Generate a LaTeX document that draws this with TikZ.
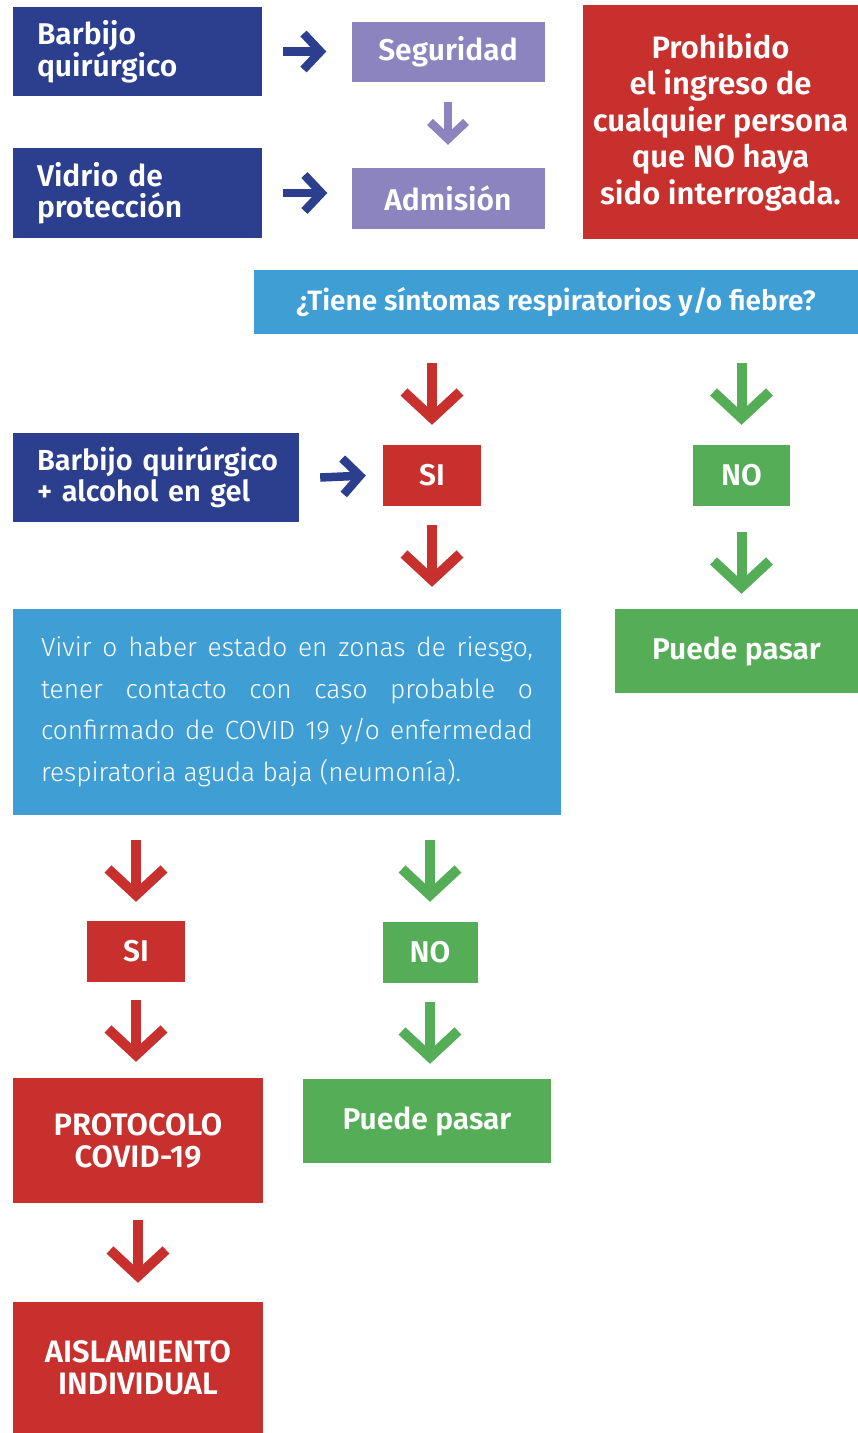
\documentclass[tikz,border=0pt]{standalone}
\usepackage{fontspec}
\setmainfont{Fira Sans}[BoldFont={Fira Sans SemiBold}]
\newfontfamily\lightfont{Fira Sans Light}
\usetikzlibrary{arrows.meta,calc}
\definecolor{dblue}{HTML}{2B3F8E}
\definecolor{lav}{HTML}{8C84BF}
\definecolor{cred}{HTML}{C8302E}
\definecolor{lblue}{HTML}{3F9FD5}
\definecolor{cgreen}{HTML}{55AE57}
\begin{document}
\begin{tikzpicture}[x=1pt,y=-1pt,
  box/.style={rectangle, fill=#1, text=white, inner sep=0pt, align=center,
    font=\bfseries\fontsize{30}{32}\selectfont},
  lbox/.style={rectangle, fill=dblue, text=white, inner xsep=24pt, inner ysep=0pt,
    align=left, font=\bfseries\fontsize{30}{31}\selectfont},
  capsfont/.style={font=\bfseries\fontsize{31}{32}\selectfont},
  bigarr/.style={draw=#1, line width=10pt, -{Straight Barb[length=26pt,width=56pt]}},
  smallarr/.style={draw=#1, line width=8.5pt, -{Straight Barb[length=17pt,width=36pt]}}
]
\useasboundingbox (0,0) rectangle (858,1433);

% top section
\node[lbox, text width=201pt, minimum height=89pt] (b1) at (137.5,51.5) {Barbijo\\quirúrgico};
\node[lbox, text width=201pt, minimum height=90pt] (b2) at (137.5,193) {Vidrio de\\protección};
\node[box=lav, minimum width=193pt, minimum height=60pt] (seg) at (448,52) {Seguridad};
\node[box=lav, minimum width=193pt, minimum height=61pt] (adm) at (448,198.5) {Admisión};
\node[box=cred, minimum width=275pt, minimum height=234pt,
  font=\bfseries\fontsize{31}{36.5}\selectfont] (proh) at (720.5,122)
  {Prohibido\\el ingreso de\\cualquier persona\\que NO haya\\sido interrogada.};

\draw[smallarr=dblue] ($(b1.east)+(21,0)$) -- ($(b1.east -| seg.west)+(-25,0)$);
\draw[smallarr=dblue] ($(b2.east)+(21,0)$) -- ($(b2.east -| adm.west)+(-24,0)$);
\draw[smallarr=lav] ($(seg.south)+(0,20)$) -- ($(adm.north)+(0,-23)$);

% question
\node[box=lblue, minimum width=604pt, minimum height=64pt,
  font=\bfseries\fontsize{28}{31}\selectfont] (q) at (556,302)
  {¿Tiene síntomas respiratorios y/o fiebre?};

\node[lbox, text width=238pt, minimum height=89pt,
  font=\bfseries\fontsize{29}{31}\selectfont] (b3) at (156,477.5)
  {\mbox{Barbijo quirúrgico}\\\mbox{+ alcohol en gel}};
\node[box=cred, minimum width=98pt, minimum height=61pt] (si1) at (432,475.5) {SI};
\node[box=cgreen, minimum width=97pt, minimum height=61pt] (no1) at (741.5,475.5) {NO};
\node[box=cgreen, minimum width=243pt, minimum height=84pt] (pp1) at (736.5,651) {Puede pasar};

\draw[bigarr=cred] ($(q.south -| si1.north)+(0,29)$) -- ($(si1.north)+(0,-20)$);
\draw[bigarr=cgreen] ($(q.south -| no1.north)+(0,29)$) -- ($(no1.north)+(0,-20)$);
\draw[smallarr=dblue] ($(b3.east)+(21,0)$) -- ($(si1.west)+(-17,0)$);

% condition box
\node[rectangle, fill=lblue, text=white, inner xsep=28pt, inner ysep=0pt,
  text width=492pt, minimum height=206pt, align=justify,
  font=\lightfont\fontsize{26.3}{41.5}\selectfont] (lb) at (287,712)
  {Vivir o haber estado en zonas de riesgo,\linebreak tener contacto con caso probable o\linebreak confirmado de COVID 19 y/o enfermedad\linebreak respiratoria aguda baja (neumonía).};

\draw[bigarr=cred] ($(si1.south)+(0,19)$) -- ($(si1.south |- lb.north)+(0,-22)$);
\draw[bigarr=cgreen] ($(no1.south)+(0,26)$) -- ($(no1.south |- pp1.north)+(0,-15)$);

% lower part
\node[box=cred, minimum width=98pt, minimum height=61pt] (si2) at (136,951.5) {SI};
\node[box=cgreen, minimum width=95pt, minimum height=61pt] (no2) at (430,952.5) {NO};
\node[box=cred, capsfont, minimum width=250pt, minimum height=125pt] (proto) at (138,1140.5) {PROTOCOLO\\COVID-19};
\node[box=cgreen, minimum width=248pt, minimum height=84pt] (pp2) at (427,1121) {Puede pasar};
\node[box=cred, capsfont, minimum width=250pt, minimum height=131pt] (ais) at (138,1367.5) {AISLAMIENTO\\INDIVIDUAL};

\draw[bigarr=cred] ($(lb.south -| si2.north)+(0,25)$) -- ($(si2.north)+(0,-19)$);
\draw[bigarr=cgreen] ($(lb.south -| no2.north)+(0,25)$) -- ($(no2.north)+(0,-20)$);
\draw[bigarr=cred] ($(si2.south)+(0,18)$) -- ($(si2.south |- proto.north)+(0,-16)$);
\draw[bigarr=cgreen] ($(no2.south)+(0,19)$) -- ($(no2.south |- pp2.north)+(0,-15)$);
\draw[bigarr=cred] ($(proto.south)+(0,17)$) -- ($(ais.north)+(0,-19)$);
\end{tikzpicture}
\end{document}
